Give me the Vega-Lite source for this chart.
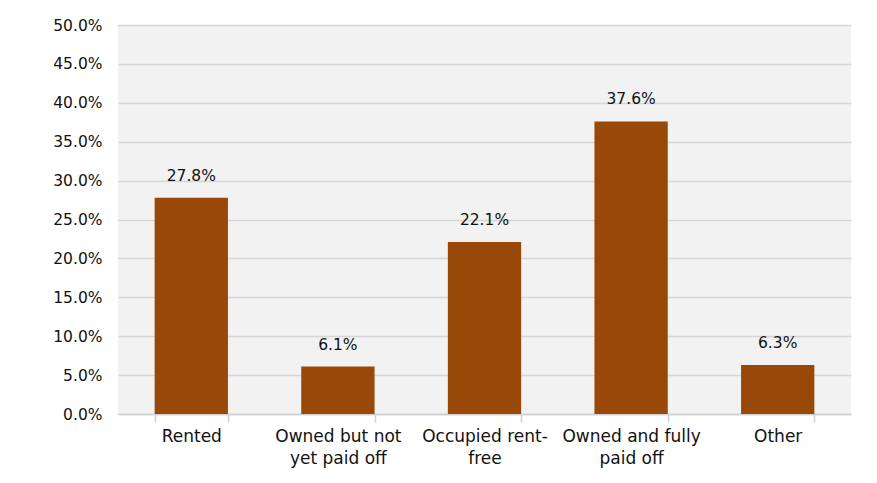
{
  "$schema": "https://vega.github.io/schema/vega-lite/v6.json",
  "width": 733,
  "height": 389,
  "autosize": {"type": "none"},
  "padding": {"left": 118, "top": 25, "right": 26, "bottom": 69},
  "background": "white",
  "config": {
    "view": {"fill": "#f2f2f2", "stroke": null},
    "font": "DejaVu Sans"
  },
  "data": {
    "values": [
      {"category": "Rented", "value": 0.278},
      {"category": "Owned but not yet paid off", "value": 0.061},
      {"category": "Occupied rent-free", "value": 0.221},
      {"category": "Owned and fully paid off", "value": 0.376},
      {"category": "Other", "value": 0.063}
    ]
  },
  "encoding": {
    "x": {
      "field": "category",
      "type": "nominal",
      "sort": null,
      "scale": {"paddingInner": 0.5, "paddingOuter": 0.25},
      "axis": {
        "title": null,
        "labelAngle": 0,
        "labelFont": "DejaVu Sans",
        "labelFontSize": 17,
        "labelColor": "#111",
        "labelPadding": 6,
        "labelLineHeight": 22,
        "labelBaseline": "top",
        "tickBand": "extent",
        "tickColor": "#d0d0d0",
        "tickSize": 8,
        "domainColor": "#d0d0d0",
        "domainWidth": 1.5,
        "tickWidth": 1.5,
        "labelExpr": "datum.label == 'Owned but not yet paid off' ? ['Owned but not', 'yet paid off'] : datum.label == 'Occupied rent-free' ? ['Occupied rent-', 'free'] : datum.label == 'Owned and fully paid off' ? ['Owned and fully', 'paid off'] : datum.label"
      }
    },
    "y": {
      "field": "value",
      "type": "quantitative",
      "scale": {"domain": [0, 0.5]},
      "axis": {
        "title": null,
        "format": ".1%",
        "values": [0, 0.05, 0.1, 0.15, 0.2, 0.25, 0.3, 0.35, 0.4, 0.45, 0.5],
        "domain": false,
        "ticks": false,
        "labelPadding": 16,
        "labelFont": "DejaVu Sans",
        "labelFontSize": 15.5,
        "labelColor": "#111",
        "gridColor": "#d6d6d6",
        "gridWidth": 1.5
      }
    }
  },
  "layer": [
    {"mark": {"type": "bar", "color": "#984807"}},
    {
      "mark": {"type": "text", "baseline": "alphabetic", "dy": -17, "fontSize": 15.5, "font": "DejaVu Sans", "color": "#111"},
      "encoding": {"text": {"field": "value", "type": "quantitative", "format": ".1%"}}
    }
  ]
}
